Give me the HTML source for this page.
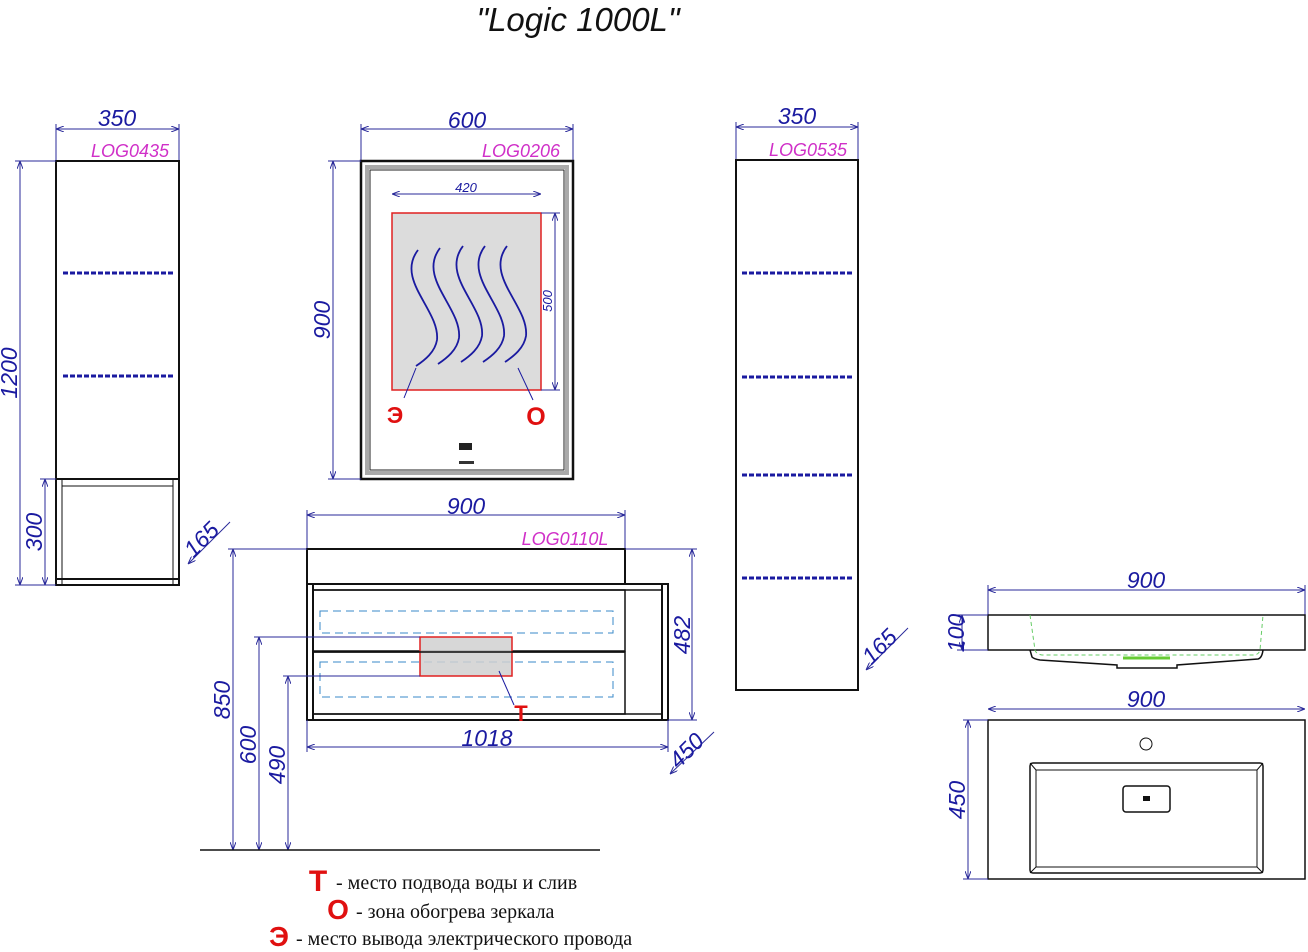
<!DOCTYPE html>
<html><head><meta charset="utf-8"><style>
html,body{margin:0;padding:0;background:#fff;width:1308px;height:952px;overflow:hidden}
svg{display:block}
.d{font-family:"Liberation Sans",sans-serif;font-style:italic;fill:#1a1aa0;font-size:23px}
.m{font-family:"Liberation Sans",sans-serif;font-style:italic;fill:#d030c8;font-size:18px}
.dl{stroke:#2a2a9a;stroke-width:1;fill:none}
.k{stroke:#111;stroke-width:2;fill:none}
.sh{stroke:#1a1aa0;stroke-width:3;stroke-dasharray:5 2;fill:none}
.lg{font-family:"Liberation Serif",serif;font-size:20px;fill:#111}
.r{font-family:"Liberation Sans",sans-serif;font-weight:bold;fill:#e01010}
</style></head><body>
<svg width="1308" height="952" viewBox="0 0 1308 952" xmlns="http://www.w3.org/2000/svg">
<defs><marker id="a" markerWidth="8" markerHeight="6" refX="8" refY="3" orient="auto-start-reverse"><path d="M0,0 L8,3 L0,6" fill="none" stroke="#2a2a9a" stroke-width="1"/></marker></defs>
<text x="578" y="31" text-anchor="middle" font-family="Liberation Sans,sans-serif" font-style="italic" font-size="33" fill="#111" font-weight="bold" style="font-weight:500">"Logic 1000L"</text>

<!-- Left cabinet -->
<line class="dl" x1="56" y1="129" x2="179" y2="129" marker-start="url(#a)" marker-end="url(#a)"/>
<line class="dl" x1="56" y1="124" x2="56" y2="161"/><line class="dl" x1="179" y1="124" x2="179" y2="161"/>
<text class="d" x="117" y="126" text-anchor="middle">350</text>
<text class="m" x="130" y="157" text-anchor="middle">LOG0435</text>
<rect class="k" x="56" y="161" width="123" height="418"/>
<line class="sh" x1="63" y1="273" x2="174" y2="273"/><line class="sh" x1="63" y1="376" x2="174" y2="376"/>
<rect class="k" x="56" y="479" width="123" height="106"/>
<line class="k" x1="62" y1="479" x2="62" y2="585" style="stroke-width:1"/><line class="k" x1="173" y1="479" x2="173" y2="585" style="stroke-width:1"/>
<line class="k" x1="62" y1="486" x2="173" y2="486" style="stroke-width:1"/><line class="k" x1="62" y1="579" x2="173" y2="579" style="stroke-width:1"/>
<line class="dl" x1="20" y1="161" x2="20" y2="585" marker-start="url(#a)" marker-end="url(#a)"/>
<line class="dl" x1="15" y1="161" x2="56" y2="161"/><line class="dl" x1="15" y1="585" x2="56" y2="585"/>
<text class="d" transform="translate(17,373) rotate(-90)" text-anchor="middle">1200</text>
<line class="dl" x1="45" y1="479" x2="45" y2="585" marker-start="url(#a)" marker-end="url(#a)"/>
<line class="dl" x1="40" y1="479" x2="56" y2="479"/>
<text class="d" transform="translate(42,532) rotate(-90)" text-anchor="middle">300</text>
<line class="dl" x1="188" y1="564" x2="230" y2="522" marker-start="url(#a)"/>
<text class="d" transform="translate(207,545) rotate(-45)" text-anchor="middle">165</text>

<!-- Mirror -->
<line class="dl" x1="361" y1="129" x2="573" y2="129" marker-start="url(#a)" marker-end="url(#a)"/>
<line class="dl" x1="361" y1="124" x2="361" y2="161"/><line class="dl" x1="573" y1="124" x2="573" y2="161"/>
<text class="d" x="467" y="128" text-anchor="middle">600</text>
<text class="m" x="521" y="157" text-anchor="middle">LOG0206</text>
<rect class="k" x="361" y="161" width="212" height="318" style="stroke-width:2.5"/>
<rect x="367" y="167" width="200" height="306" fill="none" stroke="#aaa" stroke-width="4"/>
<rect x="370" y="170" width="194" height="300" fill="none" stroke="#222" stroke-width="1"/>
<rect x="392" y="213" width="149" height="177" fill="#dcdcdc" stroke="#e02020" stroke-width="1.5"/>
<line class="dl" x1="392" y1="194" x2="541" y2="194" marker-start="url(#a)" marker-end="url(#a)"/>
<text x="466" y="192" text-anchor="middle" font-family="Liberation Sans,sans-serif" font-style="italic" font-size="13" fill="#1a1aa0">420</text>
<line class="dl" x1="555" y1="213" x2="555" y2="390" marker-start="url(#a)" marker-end="url(#a)"/>
<line class="dl" x1="541" y1="213" x2="560" y2="213"/><line class="dl" x1="541" y1="390" x2="560" y2="390"/>
<text transform="translate(552,301) rotate(-90)" text-anchor="middle" font-family="Liberation Sans,sans-serif" font-style="italic" font-size="13" fill="#1a1aa0">500</text>
<g stroke="#1a1aa0" stroke-width="1.8" fill="none">
<path d="M418,250 C395,280 440,310 437,340 C435,352 425,360 416,366"/>
<path d="M440,248 C417,278 462,308 459,338 C457,350 447,358 438,364"/>
<path d="M463,246 C440,276 485,306 482,336 C480,348 470,356 461,362"/>
<path d="M485,246 C462,276 507,306 504,336 C502,348 492,356 483,362"/>
<path d="M507,246 C484,276 529,306 526,336 C524,348 514,356 505,362"/>
</g>
<line x1="416" y1="368" x2="404" y2="398" stroke="#1a1aa0" stroke-width="1"/>
<line x1="518" y1="368" x2="533" y2="400" stroke="#1a1aa0" stroke-width="1"/>
<text class="r" x="395" y="423" font-size="23" text-anchor="middle">Э</text>
<text class="r" x="536" y="425" font-size="25" text-anchor="middle">О</text>
<rect x="459" y="443" width="13" height="7" fill="#222"/>
<rect x="459" y="461" width="15" height="3" fill="#333"/>
<line class="dl" x1="333" y1="161" x2="333" y2="479" marker-start="url(#a)" marker-end="url(#a)"/>
<line class="dl" x1="328" y1="161" x2="361" y2="161"/><line class="dl" x1="328" y1="479" x2="361" y2="479"/>
<text class="d" transform="translate(330,320) rotate(-90)" text-anchor="middle">900</text>

<!-- Right cabinet -->
<line class="dl" x1="736" y1="127" x2="858" y2="127" marker-start="url(#a)" marker-end="url(#a)"/>
<line class="dl" x1="736" y1="122" x2="736" y2="160"/><line class="dl" x1="858" y1="122" x2="858" y2="160"/>
<text class="d" x="797" y="124" text-anchor="middle">350</text>
<text class="m" x="808" y="156" text-anchor="middle">LOG0535</text>
<rect class="k" x="736" y="160" width="122" height="530"/>
<line class="sh" x1="742" y1="273" x2="853" y2="273"/><line class="sh" x1="742" y1="377" x2="853" y2="377"/>
<line class="sh" x1="742" y1="475" x2="853" y2="475"/><line class="sh" x1="742" y1="578" x2="853" y2="578"/>
<line class="dl" x1="866" y1="670" x2="908" y2="628" marker-start="url(#a)"/>
<text class="d" transform="translate(885,652) rotate(-45)" text-anchor="middle">165</text>

<!-- Vanity -->
<line class="dl" x1="307" y1="515" x2="625" y2="515" marker-start="url(#a)" marker-end="url(#a)"/>
<line class="dl" x1="307" y1="510" x2="307" y2="549"/><line class="dl" x1="625" y1="510" x2="625" y2="549"/>
<text class="d" x="466" y="514" text-anchor="middle">900</text>
<text class="m" x="565" y="545" text-anchor="middle">LOG0110L</text>
<rect class="k" x="307" y="549" width="318" height="35"/>
<rect class="k" x="307" y="584" width="361" height="136"/>
<line class="k" x1="313" y1="584" x2="313" y2="720"/><line class="k" x1="662" y1="584" x2="662" y2="720"/>
<line class="k" x1="313" y1="590" x2="662" y2="590" style="stroke-width:1.5"/>
<line class="k" x1="313" y1="714" x2="662" y2="714" style="stroke-width:1.5"/>
<rect class="k" x="313" y="590" width="312" height="61" style="stroke-width:1.5"/>
<rect class="k" x="313" y="652" width="312" height="62" style="stroke-width:1.5"/>
<rect x="320" y="611" width="293" height="22" fill="none" stroke="#3a8ac8" stroke-width="1" stroke-dasharray="8 5"/>
<rect x="320" y="662" width="293" height="35" fill="none" stroke="#3a8ac8" stroke-width="1" stroke-dasharray="8 5"/>
<rect x="420" y="637" width="92" height="39" fill="#d0d0d0" fill-opacity="0.85" stroke="#e02020" stroke-width="1.5"/>
<line x1="313" y1="652" x2="625" y2="652" stroke="#111" stroke-width="1.5"/>
<line x1="499" y1="671" x2="514" y2="705" stroke="#1a1aa0" stroke-width="1"/>
<text class="r" x="521" y="721" font-size="22" text-anchor="middle">Т</text>
<line class="dl" x1="692" y1="549" x2="692" y2="720" marker-start="url(#a)" marker-end="url(#a)"/>
<line class="dl" x1="625" y1="549" x2="697" y2="549"/><line class="dl" x1="668" y1="720" x2="697" y2="720"/>
<text class="d" transform="translate(690,635) rotate(-90)" text-anchor="middle">482</text>
<line class="dl" x1="307" y1="747" x2="668" y2="747" marker-start="url(#a)" marker-end="url(#a)"/>
<line class="dl" x1="307" y1="720" x2="307" y2="752"/><line class="dl" x1="668" y1="720" x2="668" y2="752"/>
<text class="d" x="487" y="746" text-anchor="middle">1018</text>
<line class="dl" x1="670" y1="774" x2="714" y2="732" marker-start="url(#a)"/>
<text class="d" transform="translate(692,756) rotate(-45)" text-anchor="middle">450</text>
<line class="dl" x1="233" y1="549" x2="233" y2="850" marker-start="url(#a)" marker-end="url(#a)"/>
<line class="dl" x1="228" y1="549" x2="307" y2="549"/>
<text class="d" transform="translate(230,700) rotate(-90)" text-anchor="middle">850</text>
<line class="dl" x1="259" y1="637" x2="259" y2="850" marker-start="url(#a)" marker-end="url(#a)"/>
<line class="dl" x1="254" y1="637" x2="420" y2="637"/>
<text class="d" transform="translate(256,745) rotate(-90)" text-anchor="middle">600</text>
<line class="dl" x1="288" y1="676" x2="288" y2="850" marker-start="url(#a)" marker-end="url(#a)"/>
<line class="dl" x1="283" y1="676" x2="420" y2="676"/>
<text class="d" transform="translate(285,765) rotate(-90)" text-anchor="middle">490</text>
<line x1="200" y1="850" x2="600" y2="850" stroke="#111" stroke-width="1.5"/>

<!-- Sink side -->
<line class="dl" x1="988" y1="590" x2="1305" y2="590" marker-start="url(#a)" marker-end="url(#a)"/>
<line class="dl" x1="988" y1="585" x2="988" y2="615"/><line class="dl" x1="1305" y1="585" x2="1305" y2="615"/>
<text class="d" x="1146" y="588" text-anchor="middle">900</text>
<rect class="k" x="988" y="615" width="317" height="35" style="stroke-width:1.5"/>
<path d="M1030,650 L1032,657 Q1034,659 1040,660 L1117,665 L1117,668 L1177,668 L1177,665 L1258,659 Q1262,658 1263,650" fill="none" stroke="#111" stroke-width="1.5"/>
<path d="M1030,615 L1035,650 Q1036,654 1042,655 L1255,655 Q1259,654 1260,650 L1263,615" fill="none" stroke="#6c6" stroke-width="1" stroke-dasharray="4 3"/>
<line x1="1123" y1="658" x2="1170" y2="658" stroke="#6c3" stroke-width="3"/>
<line class="dl" x1="962" y1="615" x2="962" y2="650" marker-start="url(#a)" marker-end="url(#a)"/>
<line class="dl" x1="957" y1="615" x2="988" y2="615"/><line class="dl" x1="957" y1="650" x2="988" y2="650"/>
<text class="d" transform="translate(964,633) rotate(-90)" text-anchor="middle">100</text>

<!-- Sink top -->
<line class="dl" x1="988" y1="709" x2="1305" y2="709" marker-start="url(#a)" marker-end="url(#a)"/>
<text class="d" x="1146" y="707" text-anchor="middle">900</text>
<rect class="k" x="988" y="720" width="317" height="159" style="stroke-width:1.5"/>
<circle cx="1146" cy="744" r="6" fill="none" stroke="#111" stroke-width="1"/>
<rect class="k" x="1030" y="763" width="233" height="110" rx="3" style="stroke-width:1.5"/>
<rect x="1036" y="770" width="221" height="97" fill="none" stroke="#111" stroke-width="1"/>
<line x1="1030" y1="763" x2="1036" y2="770" stroke="#111"/><line x1="1263" y1="763" x2="1257" y2="770" stroke="#111"/>
<line x1="1030" y1="873" x2="1036" y2="867" stroke="#111"/><line x1="1263" y1="873" x2="1257" y2="867" stroke="#111"/>
<rect class="k" x="1123" y="786" width="47" height="26" rx="3" style="stroke-width:1.5"/>
<rect x="1143" y="796" width="7" height="5" fill="#111"/>
<line class="dl" x1="968" y1="720" x2="968" y2="879" marker-start="url(#a)" marker-end="url(#a)"/>
<line class="dl" x1="963" y1="720" x2="988" y2="720"/><line class="dl" x1="963" y1="879" x2="988" y2="879"/>
<text class="d" transform="translate(965,800) rotate(-90)" text-anchor="middle">450</text>

<!-- Legend -->
<text class="r" x="318" y="891" font-size="30" text-anchor="middle">Т</text>
<text class="lg" x="336" y="889">- место подвода воды и слив</text>
<text class="r" x="338" y="919" font-size="28" text-anchor="middle">О</text>
<text class="lg" x="356" y="918">-  зона обогрева зеркала</text>
<text class="r" x="279" y="946" font-size="28" text-anchor="middle">Э</text>
<text class="lg" x="296" y="945">-  место вывода электрического провода</text>
</svg>
</body></html>
